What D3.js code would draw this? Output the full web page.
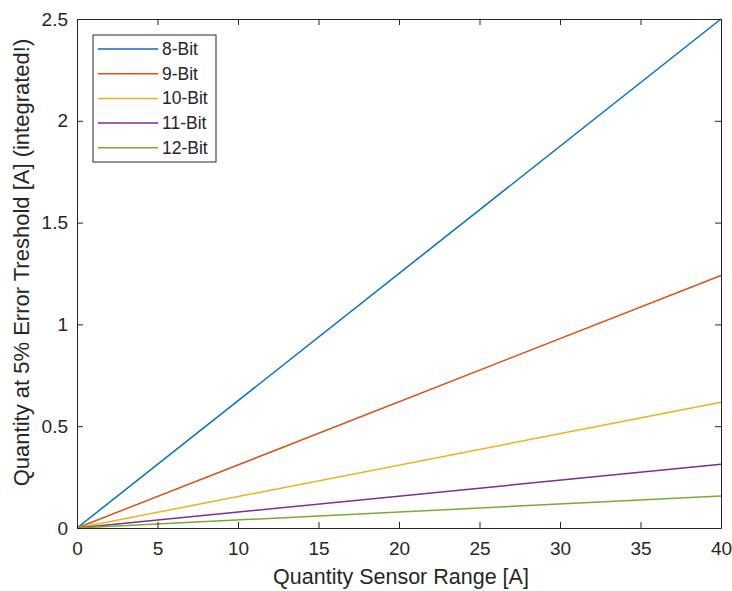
<!DOCTYPE html>
<html>
<head>
<meta charset="utf-8">
<script src="https://cdn.jsdelivr.net/npm/d3@7"></script>
<style>
  body { margin: 0; background: #fff; }
  text { font-family: "Liberation Sans", Arial, sans-serif; fill: #262626; }
</style>
</head>
<body>
<div id="container"></div>
<script>
// data: each series is a straight line from 0 to its end value at 40 A
const seriesNames = ["8-Bit", "9-Bit", "10-Bit", "11-Bit", "12-Bit"];
const xValues = [0, 40];
const endValues = [2.5, 1.24, 0.618, 0.313, 0.157];
const colors = ["#0072BD", "#D95319", "#EDB120", "#7E2F8E", "#77AC30"];
const xTicks = [0, 5, 10, 15, 20, 25, 30, 35, 40];
const yTicks = [0, 0.5, 1, 1.5, 2, 2.5];

const width = 732, height = 591;
const margin = { left: 77, right: 11, top: 19, bottom: 63 };

const svg = d3.select("#container")
  .append("svg")
  .attr("width", width)
  .attr("height", height);

const x = d3.scaleLinear().domain([0, 40]).range([margin.left, width - margin.right]);
const y = d3.scaleLinear().domain([0, 2.5]).range([height - margin.bottom, margin.top]);

// lines
const line = d3.line().x(d => x(d[0])).y(d => y(d[1]));
seriesNames.forEach((name, i) => {
  const pts = xValues.map(v => [v, v / 40 * endValues[i]]);
  svg.append("path")
    .attr("d", line(pts))
    .attr("fill", "none")
    .attr("stroke", colors[i])
    .attr("stroke-width", 1.5);
});

// axes with inward ticks (box on)
const tickLen = 6;
const axisColor = "#262626";
svg.append("g")
  .attr("transform", `translate(0,${y(0)})`)
  .call(d3.axisBottom(x).tickValues(xTicks).tickSizeInner(-tickLen).tickSizeOuter(0).tickPadding(14).tickFormat(d3.format("")))
  .call(g => g.selectAll("text").style("font-size", "19px"));
svg.append("g")
  .attr("transform", `translate(${x(0)},0)`)
  .call(d3.axisLeft(y).tickValues(yTicks).tickSizeInner(-tickLen).tickSizeOuter(0).tickPadding(9).tickFormat(d3.format("")))
  .call(g => g.selectAll("text").style("font-size", "19px"));
svg.append("g")
  .attr("transform", `translate(0,${y(2.5)})`)
  .call(d3.axisTop(x).tickValues(xTicks).tickSizeInner(-tickLen).tickSizeOuter(0).tickFormat(""));
svg.append("g")
  .attr("transform", `translate(${x(40)},0)`)
  .call(d3.axisRight(y).tickValues(yTicks).tickSizeInner(-tickLen).tickSizeOuter(0).tickFormat(""));
svg.selectAll(".domain, .tick line").attr("stroke", axisColor).attr("stroke-width", 1);
svg.selectAll(".tick text").attr("fill", axisColor);

// axis labels
svg.append("text")
  .attr("x", (x(0) + x(40)) / 2 + 2)
  .attr("y", 584)
  .attr("text-anchor", "middle")
  .style("font-size", "21.5px")
  .text("Quantity Sensor Range [A]");
svg.append("text")
  .attr("transform", `translate(29,${(y(0) + y(2.5)) / 2 - 11}) rotate(-90)`)
  .attr("text-anchor", "middle")
  .style("font-size", "22px")
  .text("Quantity at 5% Error Treshold [A] (integrated!)");

// legend
const legend = svg.append("g").attr("transform", "translate(93,35)");
legend.append("rect")
  .attr("width", 123).attr("height", 127)
  .attr("fill", "#fff").attr("stroke", axisColor);
seriesNames.forEach((name, i) => {
  const ly = 14 + i * 24.7;
  legend.append("line")
    .attr("x1", 5).attr("x2", 65).attr("y1", ly).attr("y2", ly)
    .attr("stroke", colors[i]).attr("stroke-width", 1.5);
  legend.append("text")
    .attr("x", 69).attr("y", ly + 6)
    .style("font-size", "17.5px")
    .text(name);
});
</script>
</body>
</html>
